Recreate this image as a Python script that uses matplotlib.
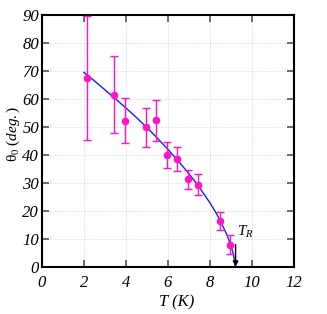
import numpy as np
import matplotlib
matplotlib.use("Agg")
import matplotlib.pyplot as plt

# datos
T_pts = [2.15, 3.45, 3.95, 4.95, 5.45, 5.97, 6.45, 6.95, 7.45, 8.47, 8.95]
theta_pts = [67.4, 61.6, 52.3, 49.9, 52.4, 40.0, 38.6, 31.3, 29.4, 16.4, 8.0]
theta_err = [22.2, 13.8, 7.9, 7.0, 7.3, 4.6, 4.3, 3.5, 3.7, 3.3, 3.5]

# curva de ajuste
T_fit = [2.0, 2.5, 3.0, 3.5, 4.0, 4.5, 5.0, 5.5, 6.0, 6.5, 7.0, 7.5, 8.0,
         8.3, 8.5, 8.7, 8.8, 8.9, 9.0, 9.05, 9.1, 9.15, 9.2]
theta_fit = [69.5, 66.5, 63.3, 60.1, 56.8, 53.4, 49.8, 46.0, 42.0, 37.8, 33.3,
             28.4, 22.9, 19.2, 16.4, 13.2, 11.6, 9.7, 7.5, 6.3, 4.9, 3.2, 0.0]

T_R = 9.22

x_ticks = [0, 2, 4, 6, 8, 10, 12]
y_ticks = [0, 10, 20, 30, 40, 50, 60, 70, 80, 90]

MAGENTA = "#ff14c8"
BLUE = "#1a1aff"

plt.rcParams["font.family"] = ["Liberation Serif", "DejaVu Serif"]
plt.rcParams["mathtext.fontset"] = "custom"
plt.rcParams["mathtext.it"] = "Liberation Serif:italic"
plt.rcParams["mathtext.rm"] = "Liberation Serif"

fig = plt.figure(figsize=(3.27, 3.14), dpi=100)
ax = fig.add_axes([0.128, 0.150, 0.771, 0.802])

ax.grid(True, color="#c8d2ff", linewidth=0.7, linestyle=":")
ax.set_axisbelow(True)

ax.plot(T_fit, theta_fit, color=BLUE, linewidth=1.0, zorder=3)
ax.errorbar(T_pts, theta_pts, yerr=theta_err, fmt="o", color=MAGENTA,
            markersize=4.5, elinewidth=1.0, capsize=3, capthick=1.0,
            zorder=4, clip_on=False)

ax.annotate("", xy=(T_R, 0), xytext=(T_R, 8),
            arrowprops=dict(arrowstyle="-|>", color="black", lw=1.0,
                            mutation_scale=8, shrinkA=0, shrinkB=0))
ax.text(T_R + 0.05, 9.5, r"$T_R$", fontsize=11, ha="left", va="bottom")

ax.set_xlim(0, 12)
ax.set_ylim(0, 90)
ax.set_xticks(x_ticks)
ax.set_xticklabels([str(v) for v in x_ticks], fontstyle="italic", fontsize=12)
ax.set_yticks(y_ticks)
ax.set_yticklabels([str(v) for v in y_ticks], fontstyle="italic", fontsize=12)
ax.tick_params(direction="in", length=5, width=1.2, color="#555555",
               top=True, right=True)
ax.tick_params(axis="x", pad=6)
ax.tick_params(axis="y", pad=2)
for spine in ax.spines.values():
    spine.set_linewidth(1.5)

ax.set_xlabel("T (K)", fontsize=12, fontstyle="italic")
ax.xaxis.set_label_coords(0.536, -0.11)
ax.set_ylabel(r"$\mathrm{θ}_{\mathit{0}}\ \mathit{(deg.)}$", fontsize=11)
ax.yaxis.set_label_coords(-0.078, 0.53)

fig.savefig("out.png", dpi=100)
